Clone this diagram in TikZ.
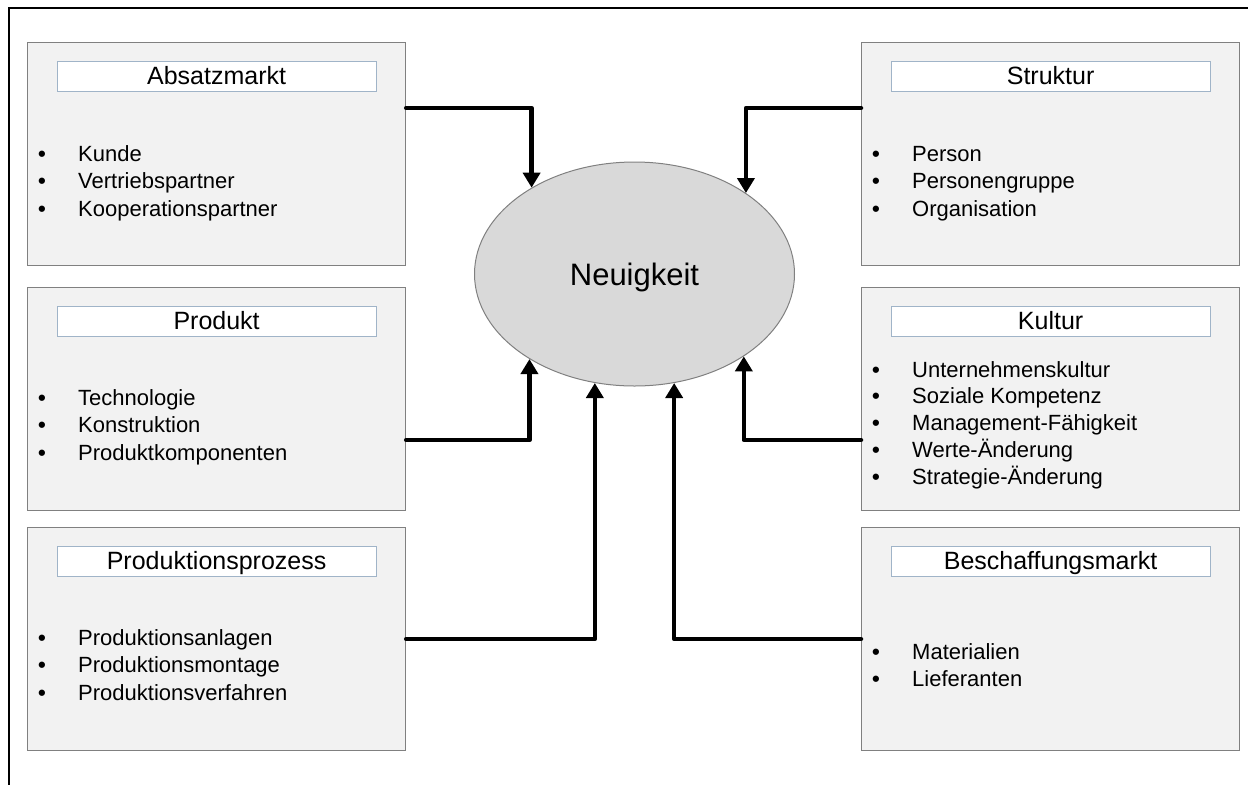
\documentclass[tikz,border=0pt]{standalone}
\usepackage{fontspec}
\setmainfont{Liberation Sans}
\usetikzlibrary{arrows.meta,shapes.geometric}

\definecolor{boxfill}{HTML}{F2F2F2}
\definecolor{boxline}{HTML}{808080}
\definecolor{titleline}{RGB}{160,180,200}
\definecolor{corefill}{HTML}{D9D9D9}

% a grey panel with its framed heading
\newcommand\panelbox[4]{% name, x, y, heading
  \node[panel] (#1) at (#2,#3) {};
  \node[titlebox] (#1-title) at ([yshift=-19pt]#1.north) {#4};
}
% bulleted entries of a panel
\newcommand\panelentries[4]{% name, first baseline below top, line spacing, entries
  \foreach \itemname [count=\idx] in {#4} {
    \node[itemtext] (#1-dot\idx) at ([xshift=11pt,yshift={-(#2+(\idx-1)*#3)*1pt}]#1.north west)
      {\textbf{•}};
    \node[itemtext] (#1-item\idx) at ([xshift=51pt,yshift={-(#2+(\idx-1)*#3)*1pt}]#1.north west)
      {\itemname};
  }
}

\begin{document}
\begin{tikzpicture}[x=1pt,y=-1pt,
  panel/.style={draw=boxline,line width=1.2pt,fill=boxfill,minimum width=378pt,
    minimum height=223pt,inner sep=0pt,anchor=north west},
  titlebox/.style={draw=titleline,line width=1.2pt,fill=white,minimum width=319pt,
    minimum height=30pt,inner sep=0pt,text height=19pt,text depth=3pt,
    font=\fontsize{25}{30}\selectfont,anchor=north},
  itemtext/.style={inner sep=0pt,anchor=base west,font=\fontsize{22}{26}\selectfont},
  core/.style={ellipse,draw=boxline,line width=1pt,fill=corefill,minimum width=320pt,
    minimum height=224pt,inner sep=0pt,text depth=0pt,font=\fontsize{31}{36}\selectfont},
  link/.style={line width=4.5pt,line cap=round,line join=round,
    -{Triangle[width=17pt,length=15pt]}},
  frame/.style={line width=2.2pt}]

\useasboundingbox (0,0) rectangle (1248,785);

% outer frame (top and left edges)
\coordinate (frameTR) at (1248,8);
\coordinate (frameTL) at (9,8);
\coordinate (frameBL) at (9,785);
\draw[frame] (frameTR) -- (frameTL) -- (frameBL);

% left column
\panelbox{absatz}{27}{42}{Absatzmarkt}
\panelentries{absatz}{119}{27.5}{Kunde,Vertriebspartner,Kooperationspartner}
\panelbox{produkt}{27}{287}{Produkt}
\panelentries{produkt}{118}{27.5}{Technologie,Konstruktion,Produktkomponenten}
\panelbox{prozess}{27}{527}{Produktionsprozess}
\panelentries{prozess}{118}{27.5}{Produktionsanlagen,Produktionsmontage,Produktionsverfahren}

% right column
\panelbox{struktur}{861}{42}{Struktur}
\panelentries{struktur}{119}{27.5}{Person,Personengruppe,Organisation}
\panelbox{kultur}{861}{287}{Kultur}
\panelentries{kultur}{90}{26.75}{Unternehmenskultur,Soziale Kompetenz,Management-Fähigkeit,Werte-Änderung,Strategie-Änderung}
\panelbox{beschaffung}{861}{527}{Beschaffungsmarkt}
\panelentries{beschaffung}{132}{27}{Materialien,Lieferanten}

% centre
\node[core] (neu) at (634.5,274) {Neuigkeit};

% influences
\draw[link] ([yshift=-66pt]absatz.north east) -| (neu.140.94);
\draw[link] ([yshift=-66pt]struktur.north west) -| (neu.36.71);
\draw[link] ([yshift=-153pt]produkt.north east) -| (neu.219.53);
\draw[link] ([yshift=-153pt]kultur.north west) -| (neu.323.29);
\draw[link] ([yshift=-112pt]prozess.north east) -| (neu.250);
\draw[link] ([yshift=-112pt]beschaffung.north west) -| (neu.290);

\end{tikzpicture}
\end{document}
